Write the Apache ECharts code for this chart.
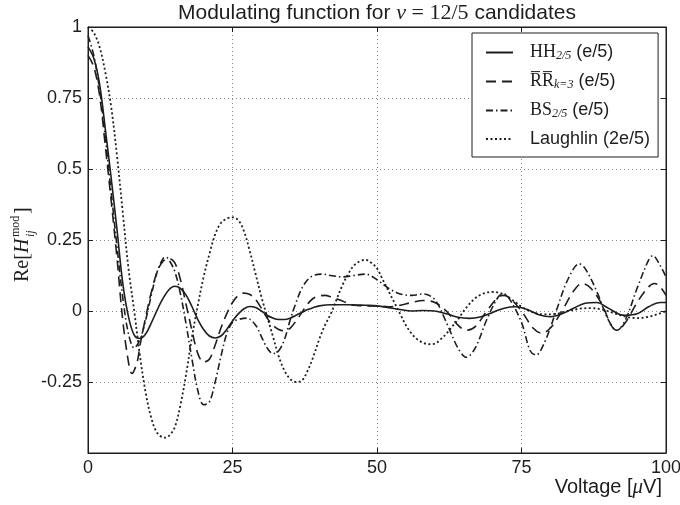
<!DOCTYPE html>
<html><head><meta charset="utf-8">
<script src="https://cdn.jsdelivr.net/npm/echarts@6/dist/echarts.min.js"></script>
<style>html,body{margin:0;padding:0;background:#fff}#c{width:680px;height:505px}</style>
</head><body><div id="c"></div><script>
// ---- data ----
const seriesNames = ['HH', 'RR', 'BS', 'Laughlin'];
const xTicks = [0, 25, 50, 75, 100];
const yTicks = [-0.5, -0.25, 0, 0.25, 0.5, 0.75, 1];

const hhPoints = [[0,0.93],[1,0.89],[2,0.8],[3,0.64],[4,0.47],[5,0.29],[6,0.1],[7,-0.02],[8,-0.085],[9,-0.097],[10,-0.08],[11,-0.04],[12,0.005],[13,0.045],[14,0.075],[15,0.087],[16,0.08],[17,0.055],[18,0.015],[19,-0.03],[20,-0.065],[21,-0.088],[22,-0.095],[23,-0.088],[24,-0.065],[25,-0.035],[26,-0.01],[27,0.008],[28,0.016],[29,0.012],[30,0.0],[31,-0.015],[32,-0.025],[33,-0.03],[34,-0.03],[35,-0.025],[36,-0.015],[37,-0.005],[38,0.005],[39,0.012],[40,0.018],[42,0.022],[45,0.022],[48,0.02],[50,0.018],[52,0.012],[54,0.005],[56,0.0],[58,0.002],[60,0.0],[62,-0.01],[64,-0.022],[66,-0.026],[68,-0.02],[70,-0.005],[72,0.01],[74,0.015],[76,0.005],[78,-0.013],[80,-0.02],[82,-0.01],[84,0.01],[86,0.027],[88,0.03],[90,0.01],[92,-0.012],[93,-0.015],[95,-0.01],[97,0.015],[99,0.03],[100,0.03]];

const rrPoints = [[0,0.9],[1,0.86],[2,0.76],[3,0.58],[4,0.39],[5,0.19],[6,-0.03],[7,-0.18],[7.6,-0.22],[8.5,-0.18],[9,-0.12],[10,-0.02],[11,0.07],[12,0.14],[13,0.175],[14,0.185],[15,0.17],[16,0.11],[17,0.02],[18,-0.07],[19,-0.15],[20,-0.18],[21,-0.17],[22,-0.12],[23,-0.06],[24,-0.01],[25,0.03],[26,0.055],[27,0.063],[28,0.058],[29,0.04],[30,0.01],[31,-0.025],[32,-0.05],[33,-0.065],[34,-0.07],[35,-0.06],[36,-0.035],[37,-0.005],[38,0.025],[39,0.045],[40,0.053],[41,0.055],[42,0.05],[44,0.035],[46,0.02],[48,0.018],[50,0.018],[52,0.015],[54,0.02],[56,0.03],[58,0.037],[60,0.03],[62,0.0],[64,-0.05],[65.5,-0.068],[67,-0.055],[69,0.0],[71,0.05],[72,0.055],[73,0.045],[75,0.0],[77,-0.06],[78.5,-0.078],[80,-0.06],[82,0.0],[84,0.07],[85.5,0.097],[87,0.08],[89,0.02],[90.5,-0.05],[91.5,-0.068],[93,-0.04],[95,0.03],[97,0.085],[98,0.097],[99,0.085],[100,0.055]];

const bsPoints = [[0,0.97],[1,0.9],[2,0.78],[3,0.61],[4,0.42],[5,0.23],[6,0.05],[7,-0.08],[8,-0.13],[9,-0.1],[10,-0.03],[11,0.06],[12,0.14],[13,0.185],[13.5,0.19],[14,0.18],[15,0.14],[16,0.06],[17,-0.05],[18,-0.17],[19,-0.28],[20,-0.33],[21,-0.32],[22,-0.25],[23,-0.16],[24,-0.08],[25,-0.04],[26,-0.03],[27.5,-0.025],[29,-0.05],[30,-0.09],[31,-0.13],[32,-0.15],[33,-0.14],[34,-0.1],[35,-0.03],[36,0.03],[37,0.08],[38,0.11],[39,0.125],[40.5,0.13],[42,0.125],[44,0.12],[46,0.125],[48,0.13],[50,0.11],[52,0.08],[54,0.06],[56,0.055],[58,0.06],[60,0.04],[62,-0.04],[64,-0.13],[65.5,-0.163],[67,-0.13],[69,-0.03],[71,0.05],[72,0.06],[73,0.04],[75,-0.04],[76.5,-0.14],[77.5,-0.155],[79,-0.11],[81,0.0],[83,0.11],[85,0.166],[86,0.15],[88,0.07],[90,-0.03],[91.5,-0.068],[93,-0.03],[95,0.08],[97,0.18],[97.7,0.195],[99,0.16],[100,0.12]];

const laughlinPoints = [[0,1.0],[1,0.98],[2,0.93],[3,0.84],[4,0.72],[5,0.55],[6,0.35],[7,0.15],[8,0.0],[9,-0.16],[10,-0.29],[11,-0.38],[12,-0.43],[13.3,-0.446],[14,-0.44],[15,-0.41],[16,-0.33],[17,-0.22],[18,-0.09],[19,0.02],[20,0.12],[21,0.2],[22,0.27],[23,0.31],[24,0.325],[25,0.33],[26,0.32],[27,0.28],[28,0.21],[29,0.13],[30,0.05],[31,-0.02],[32,-0.09],[33,-0.16],[34,-0.21],[35,-0.24],[36,-0.25],[37,-0.245],[38,-0.21],[39,-0.16],[40,-0.1],[41,-0.05],[42,-0.01],[43,0.04],[44,0.09],[45,0.13],[46,0.16],[47,0.175],[48,0.18],[49,0.17],[50,0.15],[51,0.11],[52,0.07],[53,0.03],[54,-0.01],[55,-0.05],[56,-0.08],[57,-0.1],[58,-0.112],[59,-0.117],[60,-0.115],[61,-0.1],[62,-0.08],[63,-0.055],[64,-0.03],[65,0.0],[66,0.025],[67,0.045],[68,0.058],[69,0.065],[70,0.067],[71,0.065],[72,0.058],[73,0.045],[74,0.03],[75,0.015],[77,-0.005],[79,-0.012],[81,-0.01],[83,0.0],[85,0.008],[87,0.01],[89,0.005],[91,-0.008],[93,-0.02],[95,-0.025],[97,-0.02],[99,-0.008],[100,0.0]];

// ---- chart ----
const ink = '#1e1e1e';
const sans = 'Liberation Sans, Arial, sans-serif';
const serif = 'Liberation Serif, DejaVu Serif, serif';

const legendLabels = {
  HH: '{s|HH}{sub|2/5}{t| (e/5)}',
  RR: '{s|R\u0305R\u0305}{sub|k=3}{t| (e/5)}',
  BS: '{s|BS}{sub|2/5}{t| (e/5)}',
  Laughlin: '{t|Laughlin (2e/5)}'
};

const chart = echarts.init(document.getElementById('c'), null, {renderer: 'canvas'});

function mkSeries(name, data, type, width) {
  return {
    type: 'line', name: name, data: data, xAxisIndex: 0, yAxisIndex: 0,
    symbol: 'none', showSymbol: false, smooth: 0.35, animation: false,
    lineStyle: {color: ink, width: width, type: type},
    itemStyle: {color: ink}
  };
}

const option = {
  animation: false,
  backgroundColor: '#fff',
  grid: {left: 88, right: 14, top: 27, bottom: 52, show: true, borderColor: ink, borderWidth: 1, outerBoundsMode: 'none'},
  xAxis: [{
    type: 'value', min: xTicks[0], max: xTicks[xTicks.length - 1], interval: 25,
    axisLine: {show: true, onZero: false, lineStyle: {color: ink, width: 1}},
    axisTick: {show: true, inside: true, length: 5, lineStyle: {color: ink}},
    axisLabel: {color: ink, fontFamily: sans, fontSize: 18, margin: 6},
    splitLine: {show: true, lineStyle: {color: '#8a8a8a', type: [1, 3], width: 1}}
  }, {
    type: 'value', position: 'top', min: 0, max: 100, interval: 25,
    axisLine: {show: true, onZero: false, lineStyle: {color: ink}},
    axisTick: {show: true, inside: true, length: 5, lineStyle: {color: ink}},
    axisLabel: {show: false}, splitLine: {show: false}
  }],
  yAxis: [{
    type: 'value', min: yTicks[0], max: yTicks[yTicks.length - 1], interval: 0.25,
    axisLine: {show: true, onZero: false, lineStyle: {color: ink, width: 1}},
    axisTick: {show: true, inside: true, length: 5, lineStyle: {color: ink}},
    axisLabel: {color: ink, fontFamily: sans, fontSize: 18, margin: 6,
      formatter: function (v) { return v === -0.5 ? '' : String(v); }},
    splitLine: {show: true, lineStyle: {color: '#8a8a8a', type: [1, 3], width: 1}}
  }, {
    type: 'value', position: 'right', min: -0.5, max: 1, interval: 0.25,
    axisLine: {show: true, onZero: false, lineStyle: {color: ink}},
    axisTick: {show: true, inside: true, length: 5, lineStyle: {color: ink}},
    axisLabel: {show: false}, splitLine: {show: false}
  }],
  legend: {
    data: seriesNames, orient: 'vertical', left: 472, top: 33,
    backgroundColor: '#fff', borderColor: ink, borderWidth: 1,
    padding: [10, 8, 9, 13], itemGap: 10, itemWidth: 27, itemHeight: 14,
    itemStyle: {opacity: 0, borderWidth: 0},
    formatter: function (n) { return legendLabels[n]; },
    textStyle: {
      color: ink, padding: [0, 0, 0, 12],
      rich: {
        s: {fontFamily: serif, fontSize: 18, color: ink, lineHeight: 19},
        sub: {fontFamily: serif, fontSize: 12, fontStyle: 'italic', color: ink, padding: [7, 0, 0, 0], lineHeight: 19},
        t: {fontFamily: sans, fontSize: 18, color: ink, lineHeight: 19}
      }
    }
  },
  series: [
    mkSeries(seriesNames[0], hhPoints, 'solid', 1.6),
    mkSeries(seriesNames[1], rrPoints, [10, 6], 1.6),
    mkSeries(seriesNames[2], bsPoints, [7, 3, 1.5, 3], 1.6),
    mkSeries(seriesNames[3], laughlinPoints, [2, 2.5], 1.8)
  ],
  graphic: [
    {
      type: 'text', x: 377, y: 13,
      style: {
        text: '{a|Modulating function for }{m|\u03bd}{b| = 12/5}{a| candidates}',
        align: 'center', verticalAlign: 'middle', textAlign: 'center', textVerticalAlign: 'middle',
        rich: {
          a: {fontFamily: sans, fontSize: 21, fill: ink, color: ink},
          m: {fontFamily: serif, fontSize: 22, fontStyle: 'italic', fill: ink, color: ink},
          b: {fontFamily: serif, fontSize: 22, fill: ink, color: ink}
        }
      }
    },
    {
      type: 'text', x: 662, y: 487,
      style: {
        text: '{a|Voltage [}{m|\u03bc}{a|V]}',
        align: 'right', verticalAlign: 'middle', textAlign: 'right', textVerticalAlign: 'middle',
        rich: {
          a: {fontFamily: sans, fontSize: 20, fill: ink, color: ink},
          m: {fontFamily: serif, fontSize: 21, fontStyle: 'italic', fill: ink, color: ink}
        }
      }
    },
    {
      type: 'group', x: 23, y: 242, rotation: Math.PI / 2,
      children: [
        {type: 'text', x: -40, y: 0, style: {text: 'Re[', font: '20px ' + serif, fill: ink, align: 'left', verticalAlign: 'middle'}},
        {type: 'text', x: -11, y: 0, style: {text: 'H', font: 'italic 20px ' + serif, fill: ink, align: 'left', verticalAlign: 'middle'}},
        {type: 'text', x: 5, y: -7, style: {text: 'mod', font: '12px ' + serif, fill: ink, align: 'left', verticalAlign: 'middle'}},
        {type: 'text', x: 5, y: 8, style: {text: 'ij', font: 'italic 12px ' + serif, fill: ink, align: 'left', verticalAlign: 'middle'}},
        {type: 'text', x: 28, y: 0, style: {text: ']', font: '20px ' + serif, fill: ink, align: 'left', verticalAlign: 'middle'}}
      ]
    }
  ]
};
chart.setOption(option);
</script></body></html>
